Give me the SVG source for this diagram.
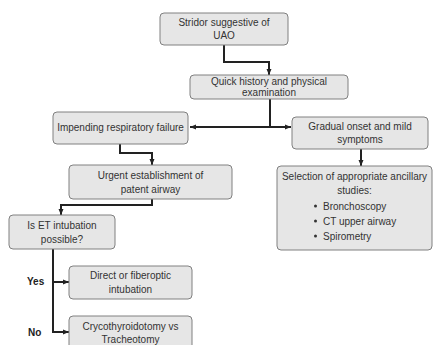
<svg xmlns="http://www.w3.org/2000/svg" width="434" height="345" viewBox="0 0 434 345">
<defs>
<style>
.box{fill:#e6e6e6;stroke:#808080;stroke-width:1}
.t{font-family:"Liberation Sans",Arial,sans-serif;font-size:10px;fill:#333;text-anchor:middle}
.tl{font-family:"Liberation Sans",Arial,sans-serif;font-size:10px;fill:#333}
.lab{font-family:"Liberation Sans",Arial,sans-serif;font-size:10px;font-weight:bold;fill:#222}
.c{fill:none;stroke:#222;stroke-width:2;marker-end:url(#ah)}
.cn{fill:none;stroke:#222;stroke-width:2}
</style>
<marker id="ah" viewBox="0 0 6 6" refX="6" refY="3" markerWidth="6" markerHeight="6" markerUnits="userSpaceOnUse" orient="auto-start-reverse">
<path d="M0,0.5 L6,3 L0,5.5 Z" fill="#222"/>
</marker>
</defs>
<rect width="434" height="345" fill="#fff"/>
<g id="connectors">
<path class="c" d="M224,45 V62 H269 V75"/>
<path class="cn" d="M270,98 V127"/>
<path class="c" d="M190,127 H291" style="marker-start:url(#ah)"/>
<path class="c" d="M120,144 V153 H152 V165"/>
<path class="c" d="M152,199 V205 H61 V215"/>
<path class="c" d="M361,149 V166"/>
<path class="c" d="M53,249 V332 H69"/>
<path class="c" d="M53,282 H69"/>
</g>
<g id="n1"><rect class="box" x="160" y="13" width="128" height="32" rx="4"/><text class="t" x="224" y="26">Stridor suggestive of</text><text class="t" x="224" y="39">UAO</text></g>
<g id="n2"><rect class="box" x="190" y="75" width="158" height="24" rx="4"/><text class="t" x="269" y="85">Quick history and physical</text><text class="t" x="269" y="96">examination</text></g>
<g id="n3"><rect class="box" x="53" y="112" width="135" height="32" rx="4"/><text class="t" x="120.5" y="131">Impending respiratory failure</text></g>
<g id="n4"><rect class="box" x="292" y="117" width="136" height="32" rx="4"/><text class="t" x="360" y="130">Gradual onset and mild</text><text class="t" x="360" y="143">symptoms</text></g>
<g id="n5"><rect class="box" x="277" y="166" width="155" height="84" rx="4"/><text class="t" x="354.5" y="180">Selection of appropriate ancillary</text><text class="t" x="354.5" y="194">studies:</text>
<circle cx="315.5" cy="206" r="1.5" fill="#333"/><text class="tl" x="323" y="210">Bronchoscopy</text>
<circle cx="315.5" cy="221" r="1.5" fill="#333"/><text class="tl" x="323" y="225">CT upper airway</text>
<circle cx="315.5" cy="236" r="1.5" fill="#333"/><text class="tl" x="323" y="240">Spirometry</text></g>
<g id="n6"><rect class="box" x="69" y="165" width="163" height="34" rx="4"/><text class="t" x="150.5" y="179">Urgent establishment of</text><text class="t" x="150.5" y="193">patent airway</text></g>
<g id="n7"><rect class="box" x="9" y="215" width="106" height="34" rx="4"/><text class="t" x="62" y="229">Is ET intubation</text><text class="t" x="62" y="243">possible?</text></g>
<g id="n8"><rect class="box" x="69" y="266" width="123" height="33" rx="4"/><text class="t" x="130.5" y="279">Direct or fiberoptic</text><text class="t" x="130.5" y="293">intubation</text></g>
<g id="n9"><rect class="box" x="69" y="316" width="123" height="40" rx="4"/><text class="t" x="130.5" y="330">Crycothyroidotomy vs</text><text class="t" x="130.5" y="343">Tracheotomy</text></g>
<text class="lab" x="27" y="285">Yes</text>
<text class="lab" x="28" y="336">No</text>
</svg>
